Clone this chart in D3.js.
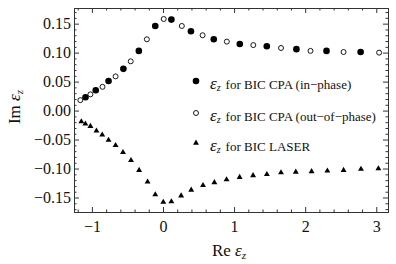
<!DOCTYPE html>
<html>
<head>
<meta charset="utf-8">
<script src="https://cdn.jsdelivr.net/npm/d3@7"></script>
<style>
  body { margin: 0; background: #fff; }
  svg text { font-family: "Times New Roman", "Liberation Serif", serif !important; }
</style>
</head>
<body>
<svg id="chart"></svg>
<script>
// in-phase BIC CPA (filled circles)
const inPhaseX = [-1.09, -0.946, -0.766, -0.557, -0.34, -0.109, 0.118, 0.393, 0.714, 1.08, 1.46, 1.877, 2.30, 2.78]
const inPhaseY = [0.023, 0.035, 0.051, 0.072, 0.103, 0.146, 0.157, 0.137, 0.123, 0.115, 0.111, 0.106, 0.103, 0.101]
// out-of-phase BIC CPA (open circles)
const outPhaseX = [-1.163, -1.021, -0.851, -0.667, -0.454, -0.227, 0.01, 0.265, 0.557, 0.898, 1.27, 1.66, 2.075, 2.54, 3.04]
const outPhaseY = [0.018, 0.028, 0.041, 0.059, 0.085, 0.123, 0.158, 0.146, 0.130, 0.119, 0.113, 0.108, 0.103, 0.101, 0.100]
// BIC LASER (triangles)
const laserX = [-1.149, -1.092, -1.021, -0.936, -0.855, -0.766, -0.667, -0.563, -0.45, -0.336, -0.217, -0.109, 0.004, 0.118, 0.255, 0.397, 0.563, 0.723, 0.894, 1.078, 1.267, 1.461, 1.66, 1.868, 2.09, 2.312, 2.54, 2.785, 3.03]
const laserY = [-0.019, -0.023, -0.027, -0.035, -0.042, -0.051, -0.060, -0.072, -0.086, -0.103, -0.123, -0.145, -0.158, -0.157, -0.147, -0.137, -0.129, -0.124, -0.119, -0.115, -0.112, -0.110, -0.107, -0.106, -0.105, -0.104, -0.103, -0.101, -0.100]

const xTicks = [-1, 0, 1, 2, 3]
const yTicks = [-0.15, -0.10, -0.05, 0.00, 0.05, 0.10, 0.15]
const legendLabels = ["for BIC CPA (in\u2212phase)", "for BIC CPA (out\u2212of\u2212phase)", "for BIC LASER"]

const width = 396, height = 264
const margin = {top: 8, right: 8, bottom: 52, left: 74}
const serif = "'Times New Roman', 'Liberation Serif', serif"

const svg = d3.select("#chart").attr("width", width).attr("height", height)
  .attr("font-family", serif)

const x = d3.scaleLinear().domain([-1.252, 3.165]).range([margin.left, width - margin.right])
const y = d3.scaleLinear().domain([-0.175, 0.177]).range([height - margin.bottom, margin.top])

const xMinor = d3.range(-12, 32, 2).map(d => d / 10).filter(d => !xTicks.includes(Math.round(d * 10) / 10))
const yMinor = d3.range(-17, 18, 1).map(d => d / 100).filter(d => Math.abs(d * 20 - Math.round(d * 20)) > 1e-6)

const fmtY = d => d3.format(".2f")(d).replace("-", "\u2212")
const fmtX = d => String(d).replace("-", "\u2212")

function styleAxis(g) {
  g.attr("font-family", serif)
  g.select(".domain").attr("stroke", "#333")
  g.selectAll(".tick line").attr("stroke", "#333")
  g.selectAll(".tick text").attr("font-size", 16).attr("fill", "#111")
}

const plotBottom = height - margin.bottom, plotTop = margin.top
const plotLeft = margin.left, plotRight = width - margin.right

// bottom axis
svg.append("g").attr("transform", `translate(0,${plotBottom})`)
  .call(d3.axisBottom(x).tickValues(xTicks).tickSize(-5).tickPadding(9).tickFormat(fmtX).tickSizeOuter(0))
  .call(styleAxis)
svg.append("g").attr("transform", `translate(0,${plotBottom})`)
  .call(d3.axisBottom(x).tickValues(xMinor).tickSize(-2.5).tickFormat("").tickSizeOuter(0))
  .call(styleAxis)
// top axis
svg.append("g").attr("transform", `translate(0,${plotTop})`)
  .call(d3.axisTop(x).tickValues(xTicks).tickSize(-5).tickFormat("").tickSizeOuter(0))
  .call(styleAxis)
svg.append("g").attr("transform", `translate(0,${plotTop})`)
  .call(d3.axisTop(x).tickValues(xMinor).tickSize(-2.5).tickFormat("").tickSizeOuter(0))
  .call(styleAxis)
// left axis
svg.append("g").attr("transform", `translate(${plotLeft},0)`)
  .call(d3.axisLeft(y).tickValues(yTicks).tickSize(-5).tickPadding(3).tickFormat(fmtY).tickSizeOuter(0))
  .call(styleAxis)
svg.append("g").attr("transform", `translate(${plotLeft},0)`)
  .call(d3.axisLeft(y).tickValues(yMinor).tickSize(-2.5).tickFormat("").tickSizeOuter(0))
  .call(styleAxis)
// right axis
svg.append("g").attr("transform", `translate(${plotRight},0)`)
  .call(d3.axisRight(y).tickValues(yTicks).tickSize(-5).tickFormat("").tickSizeOuter(0))
  .call(styleAxis)
svg.append("g").attr("transform", `translate(${plotRight},0)`)
  .call(d3.axisRight(y).tickValues(yMinor).tickSize(-2.5).tickFormat("").tickSizeOuter(0))
  .call(styleAxis)

// points
svg.append("g").selectAll("circle")
  .data(d3.zip(inPhaseX, inPhaseY))
  .join("circle")
  .attr("cx", d => x(d[0])).attr("cy", d => y(d[1]))
  .attr("r", 3.3).attr("fill", "#000")

svg.append("g").selectAll("circle")
  .data(d3.zip(outPhaseX, outPhaseY))
  .join("circle")
  .attr("cx", d => x(d[0])).attr("cy", d => y(d[1]))
  .attr("r", 2.5).attr("fill", "#fff").attr("stroke", "#000").attr("stroke-width", 0.9)

const tri = d3.symbol().type(d3.symbolTriangle).size(15)
svg.append("g").selectAll("path")
  .data(d3.zip(laserX, laserY))
  .join("path")
  .attr("transform", d => `translate(${x(d[0])},${y(d[1])})`)
  .attr("d", tri).attr("fill", "#000")

// legend
const legY = [81, 113, 143]
const leg = svg.append("g")
legY.forEach((ly, i) => {
  const mx = 196
  if (i === 0) leg.append("circle").attr("cx", mx).attr("cy", ly).attr("r", 3.3).attr("fill", "#000")
  if (i === 1) leg.append("circle").attr("cx", mx).attr("cy", ly).attr("r", 2.5).attr("fill", "#fff").attr("stroke", "#000").attr("stroke-width", 0.9)
  if (i === 2) leg.append("path").attr("transform", `translate(${mx},${ly})`).attr("d", tri).attr("fill", "#000")
  const t = leg.append("text").attr("x", 210).attr("y", ly + 8).attr("fill", "#111")
  t.append("tspan").attr("font-style", "italic").attr("font-size", 17).text("\u03b5")
  t.append("tspan").attr("font-style", "italic").attr("font-size", 10).attr("dy", 2).text("z")
  t.append("tspan").attr("font-size", 13).attr("dy", -2).attr("dx", 5).text(legendLabels[i])
})

// axis titles
const xl = svg.append("text").attr("x", 229).attr("y", 256).attr("text-anchor", "middle").attr("fill", "#111")
xl.append("tspan").attr("font-size", 17).text("Re ")
xl.append("tspan").attr("font-size", 17).attr("font-style", "italic").text("\u03b5")
xl.append("tspan").attr("font-size", 11).attr("font-style", "italic").attr("dy", 3).text("z")

const yl = svg.append("text").attr("transform", "translate(20,107) rotate(-90)").attr("text-anchor", "middle").attr("fill", "#111")
yl.append("tspan").attr("font-size", 17).text("Im ")
yl.append("tspan").attr("font-size", 17).attr("font-style", "italic").text("\u03b5")
yl.append("tspan").attr("font-size", 11).attr("font-style", "italic").attr("dy", 3).text("z")
</script>
</body>
</html>
